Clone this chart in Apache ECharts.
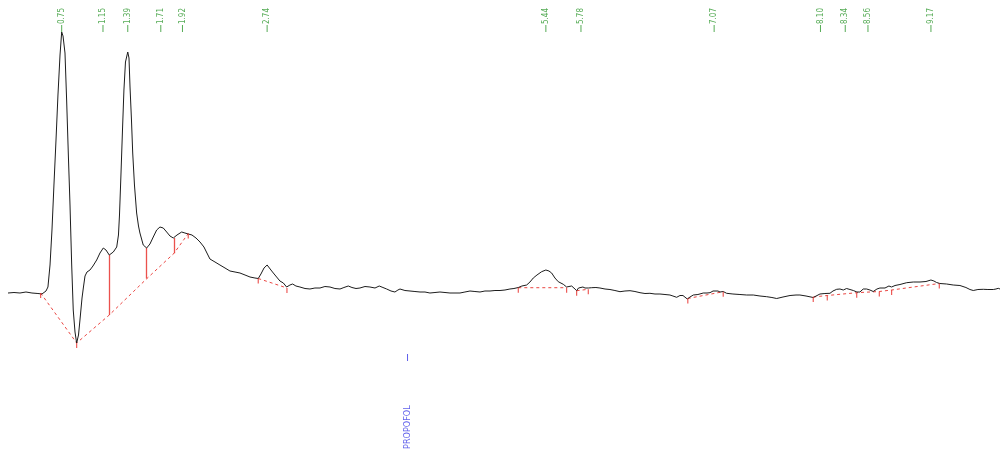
<!DOCTYPE html>
<html>
<head>
<meta charset="utf-8">
<title>Chromatogram</title>
<script src="https://cdn.jsdelivr.net/npm/echarts@6/dist/echarts.min.js"></script>
<style>
  html, body { margin: 0; padding: 0; background: #ffffff; }
  #chart { width: 1000px; height: 452px; }
</style>
</head>
<body>
<div id="chart"></div>
<script>
// Detector trace: [retention time (min), signal]
const chromatogram = [
  [0.230,0],[0.288,0.5],[0.346,0],[0.404,1],[0.462,0],[0.520,-0.5],[0.559,-1],[0.598,2],
  [0.617,6],[0.637,28],[0.656,63],[0.675,108],[0.695,153],[0.714,198],[0.734,238],[0.750,261],
  [0.763,257],[0.782,240],[0.798,193],[0.814,140],[0.830,90],[0.847,28],[0.862,-17],[0.879,-39],
  [0.895,-50],[0.913,-42],[0.927,-27],[0.947,-5],[0.961,6],[0.976,17],[0.995,21],[1.024,23],
  [1.053,27],[1.089,33],[1.121,40],[1.153,45],[1.179,43],[1.211,38],[1.250,41],[1.283,46],
  [1.300,58],[1.310,78],[1.324,118],[1.339,163],[1.353,203],[1.368,231],[1.390,241],[1.402,235],
  [1.412,206],[1.426,173],[1.438,140],[1.455,108],[1.476,80],[1.494,67],[1.508,60],[1.540,48],
  [1.573,45],[1.605,49],[1.637,56],[1.670,63],[1.702,66],[1.734,65],[1.767,61],[1.799,57],
  [1.831,55],[1.867,58],[1.912,61],[1.944,60],[1.976,59],[2.012,58],[2.051,55],[2.090,51],
  [2.128,46],[2.157,40],[2.186,34],[2.235,31],[2.283,28],[2.332,25],[2.380,22],[2.429,21],
  [2.477,20],[2.526,18],[2.574,16],[2.622,15],[2.654,14.5],[2.680,19],[2.710,25],[2.740,28],
  [2.758,26],[2.777,23],[2.800,20],[2.832,16],[2.864,12],[2.897,10],[2.929,6],[2.961,8],
  [2.987,9],[3.019,7],[3.058,6],[3.107,4.5],[3.155,4],[3.203,5],[3.252,5],[3.300,6.5],
  [3.349,6],[3.397,4.5],[3.446,4],[3.484,5.5],[3.526,7],[3.562,5.5],[3.601,4.5],[3.639,5],
  [3.688,6.5],[3.736,6],[3.785,5],[3.826,7],[3.862,5.5],[3.898,4],[3.940,2],[3.978,1],
  [4.007,3],[4.027,4],[4.075,2.5],[4.124,2],[4.172,1.5],[4.221,1],[4.269,1],[4.317,0],
  [4.366,0.5],[4.414,1],[4.463,0.5],[4.511,0],[4.560,0],[4.608,0],[4.656,1],[4.705,2],
  [4.753,1.5],[4.802,1],[4.850,2],[4.899,2],[4.947,2.5],[4.996,2.5],[5.044,3],[5.092,4],
  [5.131,4.5],[5.173,5.5],[5.208,7],[5.254,8],[5.286,11],[5.318,15],[5.354,18],[5.399,21.3],
  [5.440,23],[5.470,22],[5.496,20],[5.528,15],[5.560,11.3],[5.609,8.7],[5.641,6],[5.664,6.5],
  [5.690,7],[5.712,5],[5.738,2.3],[5.756,5],[5.770,7],[5.799,6],[5.819,5],[5.851,5],
  [5.884,5.3],[5.925,5.5],[5.964,5],[6.013,4],[6.061,3.5],[6.109,2.5],[6.158,1.3],[6.206,2],
  [6.255,2.3],[6.303,1.5],[6.352,0.3],[6.400,-0.5],[6.448,-0.3],[6.497,-1],[6.545,-1],[6.594,-1.5],
  [6.642,-2],[6.671,-3],[6.707,-4.3],[6.739,-2.5],[6.768,-2.5],[6.810,-6],[6.836,-4],[6.868,-2],
  [6.913,-1.5],[6.965,0],[7.001,0],[7.030,0.3],[7.059,2],[7.070,3.7],[7.107,2],[7.127,1],
  [7.158,1.5],[7.191,-0.3],[7.252,-1],[7.320,-1.5],[7.385,-2],[7.449,-2],[7.514,-3],[7.579,-3.7],
  [7.630,-4.5],[7.676,-5.5],[7.737,-4],[7.805,-2.5],[7.863,-2],[7.901,-2],[7.960,-3],[8.030,-4.5],
  [8.095,-1],[8.143,-0.5],[8.192,-0.3],[8.221,2],[8.257,3.7],[8.289,4],[8.321,3],[8.353,4.5],
  [8.386,3.5],[8.418,2.5],[8.453,1],[8.482,1],[8.514,4],[8.547,4],[8.579,3],[8.611,1.5],
  [8.647,4],[8.676,5],[8.725,5],[8.763,7],[8.789,6],[8.822,7.5],[8.870,8.5],[8.935,10.3],
  [8.999,11],[9.064,11],[9.122,11.5],[9.170,13],[9.199,12],[9.225,10.5],[9.257,9.5],[9.322,9],
  [9.386,8],[9.451,7.5],[9.509,5.5],[9.548,3.5],[9.580,2.5],[9.625,3.5],[9.677,3.7],[9.722,3.5],
  [9.774,3.5],[9.800,4],[9.822,4.7],[9.839,4]
];

// Retention time labels of detected peaks
const peakLabels = ['0.75','1.15','1.39','1.71','1.92','2.74','5.44','5.78','7.07','8.10','8.34','8.56','9.17'];

// Integration baselines (each is a polyline of [time, signal])
const baselines = [
  [[0.546,0],[0.895,-50],[1.211,-22],[1.576,14.5],[1.838,39.7],[1.976,59.5]],
  [[2.654,14.5],[2.932,5]],
  [[5.173,5.3],[5.641,5.3]],
  [[5.738,2.3],[5.851,3.7]],
  [[6.815,-5.5],[7.158,1.3]],
  [[8.030,-4],[8.166,-2.5],[8.451,0.3],[8.670,1.5],[8.789,3],[9.251,9.5]]
];

// Peak start/end markers
const peakBounds = [
  [0.546,0],[0.895,-50],[1.976,59.5],[2.654,14.5],[2.932,5],[5.173,5.3],[5.641,5.3],
  [5.738,2.3],[5.851,3.7],[6.815,-5.5],[7.158,1.3],[8.030,-4],[8.166,-2.5],[8.451,0.3],
  [8.670,1.5],[8.789,3],[9.251,9.5]
];

// Vertical drop lines between overlapping peaks
const dropTimes = [1.211, 1.573, 1.838];
const dropTops = [38, 45, 55];
const dropBottoms = [-22, 14.5, 39.7];

// Reference compound marker
const compoundName = 'PROPOFOL';
const compoundTime = 4.10;

const chart = echarts.init(document.getElementById('chart'), null, { renderer: 'canvas' });

const RED = '#e8322e';
const GREEN = '#2a962a';
const BLUE = '#3434e6';
const labelFont = '"Liberation Sans Narrow", "DejaVu Sans Condensed", sans-serif';

const option = {
  animation: false,
  backgroundColor: '#ffffff',
  grid: { left: 8, right: 0, top: 0, bottom: 0, containLabel: false },
  xAxis: { type: 'value', min: 0.23, max: 9.839, show: false },
  yAxis: { type: 'value', min: -159, max: 293, show: false },
  series: [
    {
      type: 'line',
      data: chromatogram,
      symbol: 'none',
      smooth: false,
      silent: true,
      lineStyle: { color: '#1c1c1c', width: 1 },
      z: 3
    },
    {
      type: 'lines',
      coordinateSystem: 'cartesian2d',
      polyline: true,
      silent: true,
      data: baselines.map(b => ({ coords: b })),
      lineStyle: { color: RED, width: 1, type: [3, 3], opacity: 0.9 },
      z: 2
    },
    {
      type: 'lines',
      coordinateSystem: 'cartesian2d',
      silent: true,
      data: dropTimes.map((t, i) => ({ coords: [[t, dropTops[i]], [t, dropBottoms[i]]] })),
      lineStyle: { color: RED, width: 1.3, opacity: 0.85 },
      z: 2
    },
    {
      type: 'scatter',
      data: peakBounds,
      symbol: 'rect',
      symbolSize: [1.2, 5],
      symbolOffset: [0, 2.5],
      silent: true,
      itemStyle: { color: RED },
      z: 4
    },
    {
      type: 'scatter',
      data: peakLabels.map(s => [parseFloat(s), 264.5]),
      symbol: 'rect',
      symbolSize: [1, 7],
      silent: true,
      itemStyle: { color: GREEN },
      label: {
        show: true,
        position: 'top',
        distance: 1,
        rotate: 90,
        align: 'left',
        verticalAlign: 'middle',
        color: GREEN,
        fontSize: 8,
        fontFamily: labelFont,
        formatter: p => peakLabels[p.dataIndex]
      },
      z: 5
    },
    {
      type: 'scatter',
      data: [[compoundTime, -64.5]],
      symbol: 'rect',
      symbolSize: [1, 7],
      silent: true,
      itemStyle: { color: BLUE },
      z: 5
    },
    {
      type: 'scatter',
      data: [[compoundTime, -156]],
      symbol: 'rect',
      symbolSize: 0,
      silent: true,
      label: {
        show: true,
        position: 'top',
        distance: 0,
        rotate: 90,
        align: 'left',
        verticalAlign: 'middle',
        color: BLUE,
        fontSize: 9,
        fontFamily: labelFont,
        formatter: () => compoundName
      },
      z: 5
    }
  ]
};

chart.setOption(option);
</script>
</body>
</html>
